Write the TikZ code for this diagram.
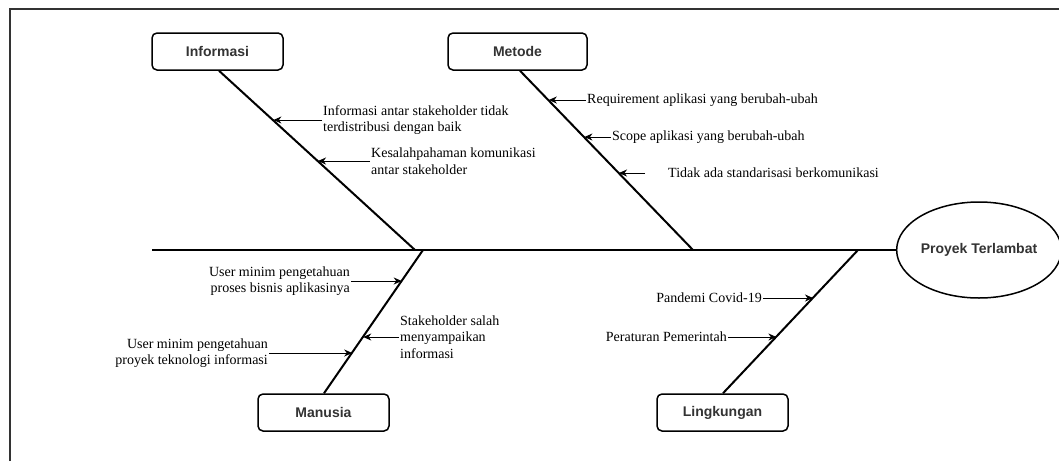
\documentclass[tikz,border=0pt]{standalone}
\usepackage{fontspec}
\setmainfont{Liberation Serif}
\newfontfamily\boxfont{Liberation Sans}
\usetikzlibrary{arrows.meta,shapes.geometric}
\definecolor{boxtext}{HTML}{333333}
\definecolor{framec}{HTML}{333333}
\tikzset{
  catbox/.style={draw=black, line width=1.5pt, rounded corners=5pt, minimum height=37pt,
    minimum width=131pt, inner sep=0pt, font=\boxfont\bfseries\fontsize{14}{16}\selectfont, text=boxtext},
  effect/.style={draw=black, line width=1.5pt, ellipse, minimum width=144pt, minimum height=96pt,
    inner sep=0pt, font=\boxfont\bfseries\fontsize{14}{16}\selectfont, text=boxtext},
  bone/.style={draw=black, line width=2pt},
  cause/.style={inner sep=1pt, font=\fontsize{14}{16.5}\selectfont, text=black},
  arr/.style={draw=black, line width=1pt, -{Stealth[length=8pt,width=7pt,inset=2.5pt]}}
}
\begin{document}
\begin{tikzpicture}[x=1pt,y=-1pt]
\useasboundingbox (0,0) rectangle (1059,461);
\fill[white] (0,0) rectangle (1059,461);
% frame (cropped)
\draw[framec, line width=2pt] (10,461) -- (10,9) -- (1059,9);

% category boxes and effect
\node[catbox] (inf) at (217.5,51.5) {Informasi};
\node[catbox, minimum width=139pt] (met) at (517.5,51.5) {Metode};
\node[catbox] (man) at (323.5,412.5) {Manusia};
\node[catbox] (lin) at (722.5,412.5) {Lingkungan};
\node[effect] (eff) at (979,250) {Proyek Terlambat};

% joints on spine
\coordinate (s0) at (152,250);
\coordinate (jI) at (415,250);
\coordinate (jM) at (423,250);
\coordinate (jMe) at (693,250);
\coordinate (jL) at (858,250);

% spine and bones
\draw[bone] (s0) -- (eff.west);
\draw[bone] (inf.south -| 219,0) -- (jI);
\draw[bone] (met.south -| 520,0) -- (jMe);
\draw[bone] (man.north -| 324,0) -- (jM);
\draw[bone] (lin.north -| 723,0) -- (jL);

% arrow tips on the bones
\coordinate (tI1) at (273.4,120);
\coordinate (tI2) at (318,161);
\coordinate (tM1) at (548.8,100);
\coordinate (tM2) at (584.4,137);
\coordinate (tM3) at (619,173);
\coordinate (tU1) at (401.7,281);
\coordinate (tU2) at (352.2,353);
\coordinate (tS) at (363.2,337);
\coordinate (tP1) at (813,298);
\coordinate (tP2) at (776.4,337);

% cause labels
\node[cause, anchor=west, align=left] (cI1) at (322,120) {Informasi antar stakeholder tidak\\terdistribusi dengan baik};
\node[cause, anchor=west, align=left] (cI2) at (370,161) {Kesalahpahaman komunikasi\\antar stakeholder};
\node[cause, anchor=west] (cM1) at (586,100) {Requirement aplikasi yang berubah-ubah};
\node[cause, anchor=west] (cM2) at (611,137) {Scope aplikasi yang berubah-ubah};
\node[cause, anchor=west, inner xsep=0pt] (cM3) at (645,173) {\hspace{23pt}Tidak ada standarisasi berkomunikasi};
\node[cause, anchor=east, align=right] (cU1) at (351,281) {User minim pengetahuan\\proses bisnis aplikasinya};
\node[cause, anchor=east, align=right] (cU2) at (269,353) {User minim pengetahuan\\proyek teknologi informasi};
\node[cause, anchor=west, align=left] (cS) at (399,337) {Stakeholder salah\\menyampaikan\\informasi};
\node[cause, anchor=east] (cP1) at (763,298) {Pandemi Covid-19};
\node[cause, anchor=east] (cP2) at (728,337) {Peraturan Pemerintah};

% cause arrows
\draw[arr] (cI1.west) -- (tI1);
\draw[arr] (cI2.west) -- (tI2);
\draw[arr] (cM1.west) -- (tM1);
\draw[arr] (cM2.west) -- (tM2);
\draw[arr] (cM3.west) -- (tM3);
\draw[arr] (cU1.east) -- (tU1);
\draw[arr] (cU2.east) -- (tU2);
\draw[arr] (cS.west) -- (tS);
\draw[arr] (cP1.east) -- (tP1);
\draw[arr] (cP2.east) -- (tP2);
\end{tikzpicture}
\end{document}
